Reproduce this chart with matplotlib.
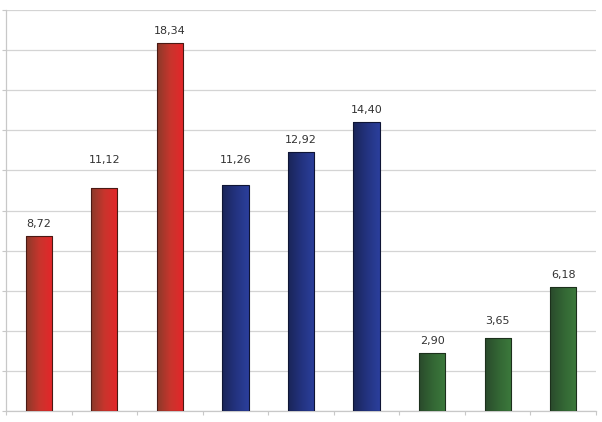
import numpy as np
import matplotlib.pyplot as plt
from matplotlib.colors import LinearSegmentedColormap
from matplotlib.patches import Rectangle

plt.rcParams.update({
    "font.family": "DejaVu Sans",
    "font.size": 8,
})

# Datos
values = [8.72, 11.12, 18.34, 11.26, 12.92, 14.40, 2.90, 3.65, 6.18]
groups = [0, 0, 0, 1, 1, 1, 2, 2, 2]
labels = ["8,72", "11,12", "18,34", "11,26", "12,92", "14,40", "2,90", "3,65", "6,18"]

# Degradados por grupo (izquierda oscura -> derecha clara)
gradients = [
    ("#8a3a2a", "#c8352d", "#e5262a"),
    ("#1a2558", "#23337f", "#2b3f9c"),
    ("#2a4a2c", "#336634", "#3c7a3c"),
]
edge_colors = ["#4a1a14", "#0f1535", "#1c301c"]

grid_step = 2
fig = plt.figure(figsize=(6.02, 4.22), dpi=100)
ax = fig.add_axes([6 / 602, 11 / 422, 590 / 602, 401 / 422])

x = np.arange(len(values))
width = 0.4
grad = np.linspace(0, 1, 64).reshape(1, -1)


def label_y(val):
    # etiqueta sobre la barra; si choca con una línea de la rejilla, se sube
    c = val + 0.6
    g = np.ceil((c - 0.3) / grid_step) * grid_step
    if c - 0.3 <= g <= c + 0.3:
        c = g + 0.5
    return c


for xi, val, g, lab in zip(x, values, groups, labels):
    cmap = LinearSegmentedColormap.from_list(f"g{g}", gradients[g])
    left = xi - width / 2
    im = ax.imshow(grad, cmap=cmap, aspect="auto",
                   extent=(left, left + width, 0, val), zorder=3,
                   interpolation="bilinear")
    rect = Rectangle((left, 0), width, val, facecolor="none",
                     edgecolor=edge_colors[g], linewidth=0.8, zorder=4)
    ax.add_patch(rect)
    im.set_clip_path(rect)
    ax.text(xi, label_y(val), lab, ha="center", va="center",
            fontsize=8, color="#333333", zorder=5)

ax.set_xlim(-0.5, len(values) - 0.5)
ax.set_ylim(0, 20)

ax.set_yticks(np.arange(0, 21, grid_step))
ax.set_yticklabels([])
ax.set_xticks(np.arange(-0.5, len(values), 1.0))
ax.set_xticklabels([])
ax.tick_params(axis="both", length=3, width=0.8, color="#c8c8c8")

ax.grid(True, axis="y", color="#d4d4d4", linewidth=0.9, zorder=0)
ax.set_axisbelow(True)

for side in ["top", "right"]:
    ax.spines[side].set_visible(False)
for side in ["left", "bottom"]:
    ax.spines[side].set_color("#c8c8c8")
    ax.spines[side].set_linewidth(0.9)

fig.savefig("out.png", dpi=100)
